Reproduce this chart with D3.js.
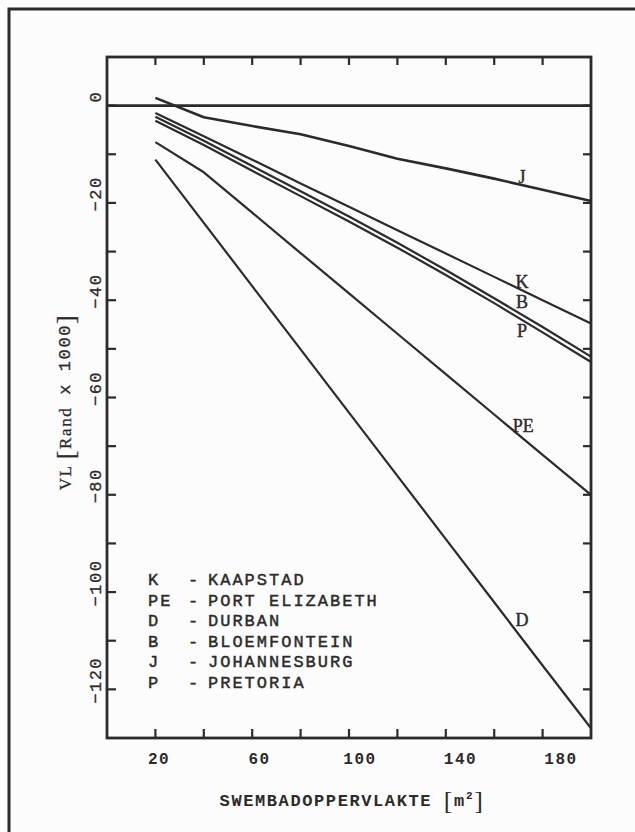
<!DOCTYPE html>
<html>
<head>
<meta charset="utf-8">
<script src="https://cdn.jsdelivr.net/npm/d3@7"></script>
<style>
  html, body { margin: 0; padding: 0; background: #fcfcfc; }
  svg { display: block; }
  .mono { font-family: "Liberation Mono", "DejaVu Sans Mono", monospace; }
  .serif { font-family: "Liberation Serif", "DejaVu Serif", serif; }
</style>
</head>
<body>
<div id="chart"></div>
<script>
const width = 635;
const height = 832;

var ink = '#2b2b2b';

// swimming pool area [m2]
const area = [20, 40, 60, 80, 100, 120, 140, 160, 180, 200];

// VL [Rand x 1000] per city
const kaapstad      = [-1.5, -6.3, -11.1, -16.0, -20.8, -25.6, -30.4, -35.2, -40.0, -44.8];
const portElizabeth = [-7.5, -13.7, -22.0, -30.3, -38.6, -46.9, -55.2, -63.5, -71.8, -80.0];
const durban        = [-11.1, -24.1, -37.1, -50.1, -63.1, -76.1, -89.1, -102.1, -115.1, -128.0];
const bloemfontein  = [-2.3, -7.2, -12.4, -17.6, -22.8, -28.2, -33.8, -39.6, -45.5, -51.6];
const johannesburg  = [1.6, -2.4, -4.2, -5.9, -8.3, -10.9, -12.9, -15.0, -17.3, -19.6];
const pretoria      = [-3.1, -8.1, -13.4, -18.6, -23.8, -29.2, -34.8, -40.6, -46.6, -52.7];

const codes = ['K', 'PE', 'D', 'B', 'J', 'P'];
const cities = ['KAAPSTAD', 'PORT ELIZABETH', 'DURBAN', 'BLOEMFONTEIN', 'JOHANNESBURG', 'PRETORIA'];

// where the letter next to each curve sits (data units)
const labelArea = [171.5, 172, 171.5, 171.5, 171.5, 171.5];
const labelValue = [-37.4, -67.0, -106.9, -41.7, -16.0, -47.5];

const xTicks = [20, 40, 60, 80, 100, 120, 140, 160, 180];
const xTickLabels = [20, 60, 100, 140, 180];
const yTicks = [0, -10, -20, -30, -40, -50, -60, -70, -80, -90, -100, -110, -120];
const yTickLabels = [0, -20, -40, -60, -80, -100, -120];

const series = [kaapstad, portElizabeth, durban, bloemfontein, johannesburg, pretoria]
  .map(function(vals, i) {
    return {code: codes[i], name: cities[i], values: vals.map(function(v, j) { return {x: area[j], y: v}; })};
  });

var svg = d3.select("div#chart")
  .append("svg")
  .attr("width", width)
  .attr("height", height);

const margin = {left: 107, right: 44, top: 57, bottom: 94};

const x = d3.scaleLinear().domain([0, 200]).range([margin.left, width - margin.right]);
const y = d3.scaleLinear().domain([-130, 10]).range([height - margin.bottom, margin.top]);

// typed tick labels drift a little from the ticks
const xLab = d3.scaleLinear().domain([20, 180]).range([159, 561]);

// outer page frame
svg.append("rect")
  .attr("x", 9).attr("y", 9)
  .attr("width", 700).attr("height", 900)
  .attr("fill", "none")
  .attr("stroke", ink)
  .attr("stroke-width", 3);

const plot = svg.append("g");

// ticks, all pointing inward
plot.selectAll("line.xb")
  .data(xTicks).enter().append("line")
  .attr("x1", d => x(d)).attr("x2", d => x(d))
  .attr("y1", y(-130)).attr("y2", y(-130) - 9)
  .attr("stroke", ink).attr("stroke-width", 2.2);

plot.selectAll("line.xt")
  .data(xTicks).enter().append("line")
  .attr("x1", d => x(d)).attr("x2", d => x(d))
  .attr("y1", y(10)).attr("y2", y(10) + 8)
  .attr("stroke", ink).attr("stroke-width", 2.2);

plot.selectAll("line.yl")
  .data(yTicks).enter().append("line")
  .attr("x1", x(0)).attr("x2", x(0) + 9)
  .attr("y1", d => y(d)).attr("y2", d => y(d))
  .attr("stroke", ink).attr("stroke-width", 2.2);

plot.selectAll("line.yr")
  .data(yTicks).enter().append("line")
  .attr("x1", x(200)).attr("x2", x(200) - 8)
  .attr("y1", d => y(d)).attr("y2", d => y(d))
  .attr("stroke", ink).attr("stroke-width", 2.2);

// zero line
plot.append("line")
  .attr("x1", x(0)).attr("x2", x(200))
  .attr("y1", y(0)).attr("y2", y(0))
  .attr("stroke", ink).attr("stroke-width", 2.6);

const line = d3.line()
  .x(d => x(d.x))
  .y(d => y(d.y));

plot.selectAll("path.city")
  .data(series).enter().append("path")
  .attr("class", "city")
  .attr("d", d => line(d.values))
  .attr("fill", "none")
  .attr("stroke", ink)
  .attr("stroke-width", d => d.code == 'J' ? 2.6 : 2.2)
  .attr("stroke-linejoin", "round");

// plot frame
plot.append("rect")
  .attr("x", x(0)).attr("y", y(10))
  .attr("width", x(200) - x(0)).attr("height", y(-130) - y(10))
  .attr("fill", "none")
  .attr("stroke", ink)
  .attr("stroke-width", 2.8);

// curve letters
svg.selectAll("text.curve")
  .data(codes).enter().append("text")
  .attr("class", "serif")
  .attr("x", (d, i) => x(labelArea[i]))
  .attr("y", (d, i) => y(labelValue[i]))
  .attr("text-anchor", "middle")
  .attr("font-size", 18)
  .attr("fill", ink)
  .attr("stroke", ink).attr("stroke-width", 0.4)
  .text(d => d);

// x tick labels
svg.selectAll("text.xl")
  .data(xTickLabels).enter().append("text")
  .attr("class", "mono")
  .attr("x", d => xLab(d))
  .attr("y", 764)
  .attr("text-anchor", "middle")
  .attr("font-size", 16)
  .attr("font-weight", "bold")
  .attr("letter-spacing", 1.5)
  .attr("fill", ink)
  .text(d => d);

// y tick labels (rotated)
svg.selectAll("text.yl")
  .data(yTickLabels).enter().append("text")
  .attr("class", "mono")
  .attr("transform", d => "translate(96," + (y(d) - 9) + ") rotate(-90)")
  .attr("text-anchor", "middle")
  .attr("dominant-baseline", "central")
  .attr("font-size", 17)
  .attr("letter-spacing", 1.5)
  .attr("fill", ink)
  .attr("stroke", ink).attr("stroke-width", 0.3)
  .text(d => d == 0 ? "0" : "\u2212" + Math.abs(d));

// axis titles
var xt = svg.append("text")
  .attr("class", "mono")
  .attr("x", 352).attr("y", 806)
  .attr("text-anchor", "middle")
  .attr("font-size", 17)
  .attr("font-weight", "bold")
  .attr("letter-spacing", 1.6)
  .attr("fill", ink);
xt.append("tspan").text("SWEMBADOPPERVLAKTE ");
xt.append("tspan").attr("font-size", 26).attr("font-weight", "normal").attr("class", "serif").attr("dy", 3).text("[");
xt.append("tspan").attr("dy", -3).text("m");
xt.append("tspan").attr("font-size", 11).attr("dy", -7).text("2");
xt.append("tspan").attr("font-size", 26).attr("font-weight", "normal").attr("class", "serif").attr("dy", 10).text("]");

var yt = svg.append("text")
  .attr("class", "mono")
  .attr("transform", "translate(65,402) rotate(-90)")
  .attr("text-anchor", "middle")
  .attr("dominant-baseline", "central")
  .attr("font-size", 17)
  .attr("letter-spacing", 1.6)
  .attr("fill", ink)
  .attr("stroke", ink).attr("stroke-width", 0.3);
yt.append("tspan").attr("class", "serif").text("VL ");
yt.append("tspan").attr("font-size", 26).attr("class", "serif").text("[");
yt.append("tspan").attr("class", "serif").text("Rand");
yt.append("tspan").text(" x 1000");
yt.append("tspan").attr("font-size", 26).attr("class", "serif").text("]");

// legend
const legend = svg.append("g").attr("class", "mono")
  .attr("font-size", 17)
  .attr("letter-spacing", 2)
  .attr("fill", ink)
  .attr("stroke", ink)
  .attr("stroke-width", 0.45);

const rowY = d3.scaleLinear().domain([0, 5]).range([585, 688]);

legend.selectAll("text.code")
  .data(codes).enter().append("text")
  .attr("x", 148).attr("y", (d, i) => rowY(i))
  .text(d => d);

legend.selectAll("text.dash")
  .data(codes).enter().append("text")
  .attr("x", 188).attr("y", (d, i) => rowY(i))
  .text("-");

legend.selectAll("text.city")
  .data(cities).enter().append("text")
  .attr("x", 208).attr("y", (d, i) => rowY(i))
  .text(d => d);
</script>
</body>
</html>
